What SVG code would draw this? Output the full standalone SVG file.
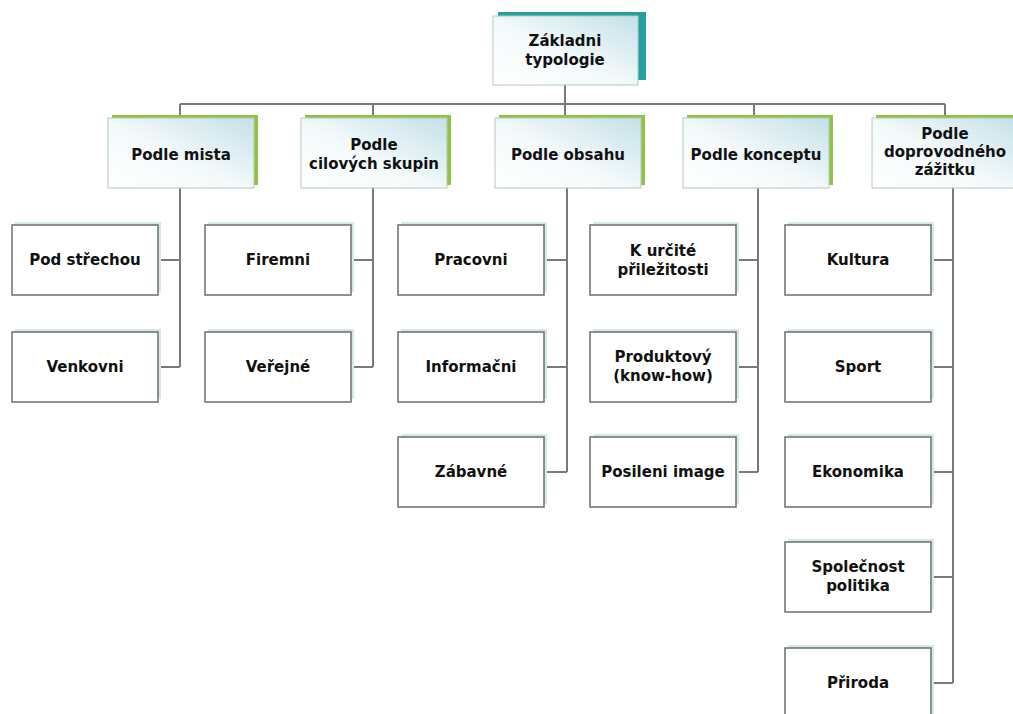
<svg xmlns="http://www.w3.org/2000/svg" width="1013" height="714" viewBox="0 0 1013 714">
<defs>
<linearGradient id="gfill" x1="0" y1="1" x2="1" y2="0">
<stop offset="0" stop-color="#ffffff"/>
<stop offset="0.45" stop-color="#f4fafb"/>
<stop offset="1" stop-color="#c4e0e8"/>
</linearGradient>
<style>
.t{font-family:"DejaVu Sans","Liberation Sans",sans-serif;font-weight:bold;font-size:15px;fill:#111111;text-anchor:middle;dominant-baseline:central}
.box2{fill:url(#gfill);stroke:#b5c8bd;stroke-width:1}
.green{fill:#8fc442}
.teal{fill:#24a0a0}
.leaf{fill:#ffffff;stroke:#6e6e6e;stroke-width:1.5}
.lshadow{fill:#d3e9ec}
.conn{fill:none;stroke:#7a7a7a;stroke-width:2}
</style>
</defs>
<rect width="1013" height="714" fill="#ffffff"/>
<g id="connectors">
<path class="conn" d="M565,85V104M180,104H945M180,104V118M373,104V118M565,104V118M754,104V118M945,104V118"/>
<path class="conn" d="M180,188V367M158,260H180M158,367H180"/>
<path class="conn" d="M373,188V367M351,260H373M351,367H373"/>
<path class="conn" d="M567,188V472M544,260H567M544,367H567M544,472H567"/>
<path class="conn" d="M758,188V472M736,260H758M736,367H758M736,472H758"/>
<path class="conn" d="M953,188V683M931,260H953M931,367H953M931,472H953M931,577H953M931,683H953"/>
</g>
<g id="n-root">
<rect class="teal" x="498" y="12" width="148" height="68"/>
<rect class="box2" x="493" y="16" width="145" height="69"/>
<text class="t" x="565" y="41">Základni</text>
<text class="t" x="565" y="60">typologie</text>
</g>
<g id="n-misto">
<rect class="green" x="112" y="115" width="146" height="70"/>
<rect class="box2" x="108" y="118" width="146" height="70"/>
<text class="t" x="181" y="155">Podle mista</text>
</g>
<g id="n-cilove">
<rect class="green" x="305" y="115" width="146" height="70"/>
<rect class="box2" x="301" y="118" width="146" height="70"/>
<text class="t" x="374" y="145">Podle</text>
<text class="t" x="374" y="164">cilových skupin</text>
</g>
<g id="n-obsah">
<rect class="green" x="499" y="115" width="146" height="70"/>
<rect class="box2" x="495" y="118" width="146" height="70"/>
<text class="t" x="568" y="155">Podle obsahu</text>
</g>
<g id="n-koncept">
<rect class="green" x="687" y="115" width="146" height="70"/>
<rect class="box2" x="683" y="118" width="146" height="70"/>
<text class="t" x="756" y="155">Podle konceptu</text>
</g>
<g id="n-zazitek">
<rect class="green" x="876" y="115" width="146" height="70"/>
<rect class="box2" x="872" y="118" width="146" height="70"/>
<text class="t" x="945" y="134">Podle</text>
<text class="t" x="945" y="152">doprovodného</text>
<text class="t" x="945" y="170">zážitku</text>
</g>
<g id="n-pod-strechou"><rect class="lshadow" x="15" y="222" width="146" height="70"/><rect class="leaf" x="12" y="225" width="146" height="70"/><text class="t" x="85" y="260">Pod střechou</text></g>
<g id="n-venkovni"><rect class="lshadow" x="15" y="329" width="146" height="70"/><rect class="leaf" x="12" y="332" width="146" height="70"/><text class="t" x="85" y="367">Venkovni</text></g>
<g id="n-firemni"><rect class="lshadow" x="208" y="222" width="146" height="70"/><rect class="leaf" x="205" y="225" width="146" height="70"/><text class="t" x="278" y="260">Firemni</text></g>
<g id="n-verejne"><rect class="lshadow" x="208" y="329" width="146" height="70"/><rect class="leaf" x="205" y="332" width="146" height="70"/><text class="t" x="278" y="367">Veřejné</text></g>
<g id="n-pracovni"><rect class="lshadow" x="401" y="222" width="146" height="70"/><rect class="leaf" x="398" y="225" width="146" height="70"/><text class="t" x="471" y="260">Pracovni</text></g>
<g id="n-informacni"><rect class="lshadow" x="401" y="329" width="146" height="70"/><rect class="leaf" x="398" y="332" width="146" height="70"/><text class="t" x="471" y="367">Informačni</text></g>
<g id="n-zabavne"><rect class="lshadow" x="401" y="434" width="146" height="70"/><rect class="leaf" x="398" y="437" width="146" height="70"/><text class="t" x="471" y="472">Zábavné</text></g>
<g id="n-prilezitost"><rect class="lshadow" x="593" y="222" width="146" height="70"/><rect class="leaf" x="590" y="225" width="146" height="70"/><text class="t" x="663" y="251">K určité</text><text class="t" x="663" y="270">přiležitosti</text></g>
<g id="n-produktovy"><rect class="lshadow" x="593" y="329" width="146" height="70"/><rect class="leaf" x="590" y="332" width="146" height="70"/><text class="t" x="663" y="357">Produktový</text><text class="t" x="663" y="376">(know-how)</text></g>
<g id="n-image"><rect class="lshadow" x="593" y="434" width="146" height="70"/><rect class="leaf" x="590" y="437" width="146" height="70"/><text class="t" x="663" y="472">Posileni image</text></g>
<g id="n-kultura"><rect class="lshadow" x="788" y="222" width="146" height="70"/><rect class="leaf" x="785" y="225" width="146" height="70"/><text class="t" x="858" y="260">Kultura</text></g>
<g id="n-sport"><rect class="lshadow" x="788" y="329" width="146" height="70"/><rect class="leaf" x="785" y="332" width="146" height="70"/><text class="t" x="858" y="367">Sport</text></g>
<g id="n-ekonomika"><rect class="lshadow" x="788" y="434" width="146" height="70"/><rect class="leaf" x="785" y="437" width="146" height="70"/><text class="t" x="858" y="472">Ekonomika</text></g>
<g id="n-spolecnost"><rect class="lshadow" x="788" y="539" width="146" height="70"/><rect class="leaf" x="785" y="542" width="146" height="70"/><text class="t" x="858" y="567">Společnost</text><text class="t" x="858" y="586">politika</text></g>
<g id="n-priroda"><rect class="lshadow" x="788" y="645" width="146" height="70"/><rect class="leaf" x="785" y="648" width="146" height="70"/><text class="t" x="858" y="683">Přiroda</text></g>
</svg>
